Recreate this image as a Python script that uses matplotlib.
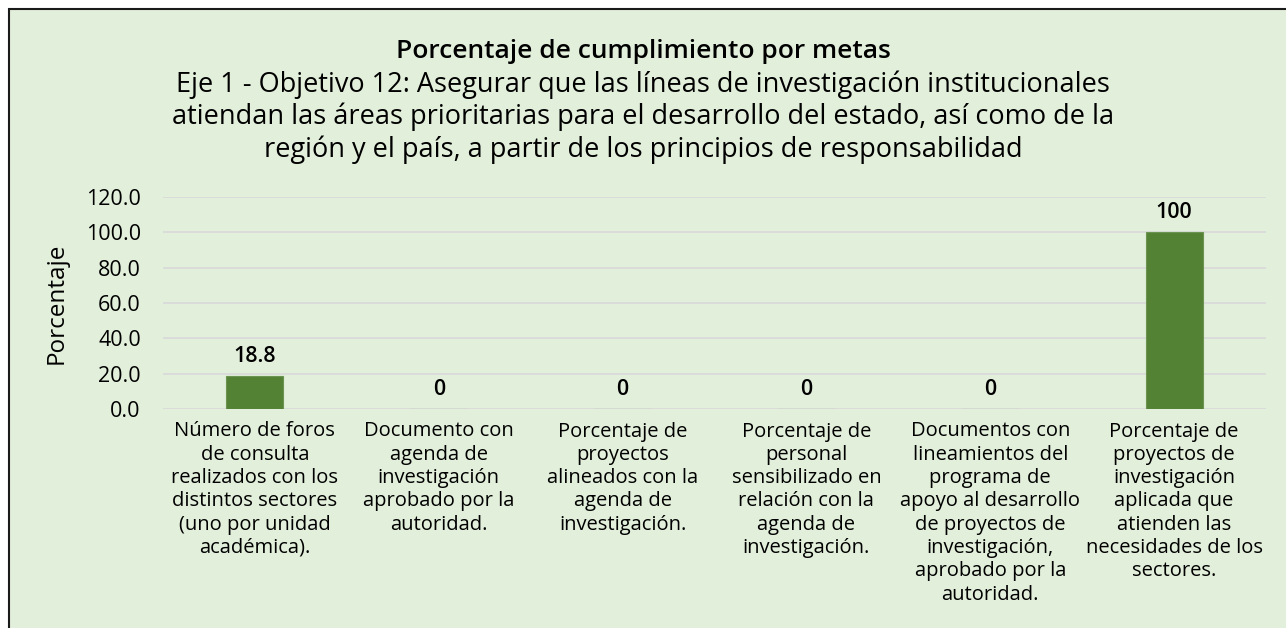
import matplotlib.pyplot as plt
from matplotlib.patches import Rectangle

# data
categorias = [
    "Número de foros\nde consulta\nrealizados con los\ndistintos sectores\n(uno por unidad\nacadémica).",
    "Documento con\nagenda de\ninvestigación\naprobado por la\nautoridad.",
    "Porcentaje de\nproyectos\nalineados con la\nagenda de\ninvestigación.",
    "Porcentaje de\npersonal\nsensibilizado en\nrelación con la\nagenda de\ninvestigación.",
    "Documentos con\nlineamientos del\nprograma de\napoyo al desarrollo\nde proyectos de\ninvestigación,\naprobado por la\nautoridad.",
    "Porcentaje de\nproyectos de\ninvestigación\naplicada que\natienden las\nnecesidades de los\nsectores.",
]
valores = [18.8, 0, 0, 0, 0, 100]
etiquetas = ["18.8", "0", "0", "0", "0", "100"]

plt.rcParams['font.family'] = ['Open Sans', 'DejaVu Sans']
bg = '#E2EFDA'

fig = plt.figure(figsize=(12.86, 6.28), dpi=100)
fig.patch.set_facecolor('white')
fig.patches.append(Rectangle((9/1286, -0.1), 1.1, 1.1 - 9/628, transform=fig.transFigure,
                             facecolor=bg, edgecolor='#1a1a1a', linewidth=1.5, zorder=-1))

ax = fig.add_axes([163/1286, 1 - 409/628, (1266 - 163)/1286, (409 - 197)/628])
ax.set_facecolor(bg)

x = range(len(valores))
ax.bar(x, valores, width=0.31, color='#548235', edgecolor='#6a9450', linewidth=0.8, zorder=3)
for i, v in enumerate(valores):
    ax.text(i, v + 5, etiquetas[i], ha='center', va='bottom', fontsize=15.5,
            fontweight='semibold', color='black')

ax.set_xlim(-0.5, len(valores) - 0.5)
ax.set_ylim(0, 120)
ax.set_yticks(range(0, 121, 20))
ax.set_yticklabels([f"{t:.1f}" for t in range(0, 121, 20)], fontsize=15.5)
ax.set_xticks(list(x))
ax.set_xticklabels(categorias, fontsize=14.5, linespacing=1.22, va='top')
ax.tick_params(axis='both', length=0)
ax.tick_params(axis='x', pad=9)
ax.tick_params(axis='y', pad=16)
ax.grid(axis='y', color='#D9D9D9', linewidth=1.2, zorder=0)
for s in ax.spines.values():
    s.set_visible(False)
ax.set_ylabel("Porcentaje", fontsize=17.5, labelpad=12)

fig.text(0.5, 1 - 51/628, "Porcentaje de cumplimiento por metas", ha='center', va='center',
         fontsize=19, fontweight='semibold')
fig.text(0.5, 1 - 117/628,
         "Eje 1 - Objetivo 12: Asegurar que las líneas de investigación institucionales\n"
         "atiendan las áreas prioritarias para el desarrollo del estado, así como de la\n"
         "región y el país, a partir de los principios de responsabilidad",
         ha='center', va='center', fontsize=19.5, linespacing=1.18)

fig.savefig('out.png', dpi=100, facecolor=fig.get_facecolor())
